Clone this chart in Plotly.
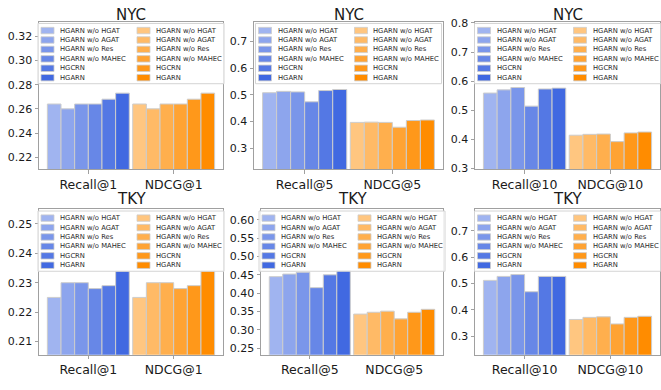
import plotly.graph_objects as go

W, H = 661, 390

# ---------------- data ----------------
variants = ["HGARN w/o HGAT", "HGARN w/o AGAT", "HGARN w/o Res",
            "HGARN w/o MAHEC", "HGCRN", "HGARN"]
datasets = ["NYC", "NYC", "NYC", "TKY", "TKY", "TKY"]
metric_labels = [["Recall@1", "NDCG@1"], ["Recall@5", "NDCG@5"], ["Recall@10", "NDCG@10"],
                 ["Recall@1", "NDCG@1"], ["Recall@5", "NDCG@5"], ["Recall@10", "NDCG@10"]]

nyc_recall1 = [0.264, 0.260, 0.264, 0.264, 0.268, 0.273]
nyc_ndcg1 = [0.264, 0.260, 0.264, 0.264, 0.268, 0.273]
nyc_recall5 = [0.508, 0.513, 0.511, 0.474, 0.516, 0.520]
nyc_ndcg5 = [0.397, 0.398, 0.397, 0.379, 0.404, 0.406]
nyc_recall10 = [0.559, 0.570, 0.578, 0.514, 0.573, 0.576]
nyc_ndcg10 = [0.414, 0.417, 0.418, 0.392, 0.422, 0.425]
tky_recall1 = [0.225, 0.230, 0.230, 0.228, 0.229, 0.234]
tky_ndcg1 = [0.225, 0.230, 0.230, 0.228, 0.229, 0.234]
tky_recall5 = [0.445, 0.452, 0.457, 0.415, 0.450, 0.462]
tky_ndcg5 = [0.343, 0.348, 0.351, 0.330, 0.348, 0.356]
tky_recall10 = [0.512, 0.527, 0.534, 0.469, 0.527, 0.527]
tky_ndcg10 = [0.364, 0.372, 0.374, 0.347, 0.372, 0.376]

recall_sets = [nyc_recall1, nyc_recall5, nyc_recall10, tky_recall1, tky_recall5, tky_recall10]
ndcg_sets = [nyc_ndcg1, nyc_ndcg5, nyc_ndcg10, tky_ndcg1, tky_ndcg5, tky_ndcg10]

y_ranges = [[0.21, 0.3323], [0.222, 0.774], [0.297, 0.805],
            [0.2055, 0.255], [0.232, 0.629], [0.23, 0.782]]
y_ticks = [[0.22, 0.24, 0.26, 0.28, 0.30, 0.32],
           [0.3, 0.4, 0.5, 0.6, 0.7],
           [0.3, 0.4, 0.5, 0.6, 0.7, 0.8],
           [0.21, 0.22, 0.23, 0.24, 0.25],
           [0.25, 0.30, 0.35, 0.40, 0.45, 0.50, 0.55, 0.60],
           [0.3, 0.4, 0.5, 0.6, 0.7]]
y_formats = [".2f", ".1f", ".1f", ".2f", ".2f", ".1f"]

# ---------------- style ----------------
blues = ["#a0b4f0", "#8da5ed", "#7a96ea", "#6787e7", "#5478e4", "#4169e1"]
oranges = ["#ffc680", "#ffba66", "#ffaf4d", "#ffa333", "#ff981a", "#ff8c00"]
EDGE = "rgb(205,205,205)"
SPINE = "#a0a0a0"
TXT = "#1a1a1a"
FONT = "DejaVu Sans"
BW = 0.16

# axes boxes in pixels: (left, right, top, bottom)
boxes = [(39, 223, 17, 169), (254, 443, 17, 169), (475, 660, 17, 169),
         (39, 223, 210, 360), (261, 443, 210, 360), (475, 660, 210, 360)]
title_y = [10.5, 10.5, 10.5, 200, 200, 200]

fig = go.Figure()
shapes = []
annotations = []


def px(x):
    return x / W


def py(y):
    return 1 - y / H


for k in range(6):
    n = "" if k == 0 else str(k + 1)
    xa, ya = "x" + n, "y" + n
    for g, (vals, cols) in enumerate([(recall_sets[k], blues), (ndcg_sets[k], oranges)]):
        xs = [g + (i - 2.5) * BW for i in range(len(vals))]
        fig.add_trace(go.Bar(
            x=xs, y=vals, width=BW, xaxis=xa, yaxis=ya,
            marker=dict(color=cols, line=dict(color=EDGE, width=1)),
            showlegend=False, hoverinfo="skip"))

    L, R, T, B = boxes[k]
    fig.layout["xaxis" + n] = dict(
        domain=[px(L), px(R)], anchor=ya, range=[-0.578, 1.578],
        tickvals=[0, 1], ticktext=metric_labels[k], ticks="outside", ticklen=3.5,
        tickcolor=SPINE, showline=True, mirror=True, linecolor=SPINE, linewidth=1,
        showgrid=False, zeroline=False, fixedrange=True,
        tickfont=dict(family=FONT, size=12.5, color=TXT))
    fig.layout["yaxis" + n] = dict(
        domain=[py(B), py(T)], anchor=xa, range=y_ranges[k],
        tickvals=y_ticks[k], tickformat=y_formats[k], ticks="outside", ticklen=3.5,
        tickcolor=SPINE, showline=True, mirror=True, linecolor=SPINE, linewidth=1,
        showgrid=False, zeroline=False, fixedrange=True,
        tickfont=dict(family=FONT, size=11, color=TXT))

    # title
    annotations.append(dict(
        x=px((L + R) / 2), y=py(title_y[k]), xref="paper", yref="paper",
        text=datasets[k], showarrow=False, xanchor="center", yanchor="middle",
        font=dict(family=FONT, size=15, color=TXT)))

    # legend (two columns, centred at the top of the axes)
    LW = 186
    bl = (L + R) / 2 - LW / 2
    shapes.append(dict(
        type="rect", xref="paper", yref="paper",
        x0=px(bl), x1=px(bl + LW), y0=py(T + 2), y1=py(T + 64),
        line=dict(color="#d4d4d4", width=1), fillcolor="rgba(255,255,255,0.85)",
        layer="above"))
    for col, cols in enumerate([blues, oranges]):
        patch_x = bl + (3 if col == 0 else 99)
        text_x = bl + (21 if col == 0 else 117)
        for i, name in enumerate(variants):
            yc = T + 9.3 + i * 9.7
            shapes.append(dict(
                type="rect", xref="paper", yref="paper",
                x0=px(patch_x), x1=px(patch_x + 13), y0=py(yc + 3.3), y1=py(yc - 3.3),
                line=dict(color=EDGE, width=0.8), fillcolor=cols[i], layer="above"))
            annotations.append(dict(
                x=px(text_x), y=py(yc), xref="paper", yref="paper", text=name,
                showarrow=False, xanchor="left", yanchor="middle", borderpad=0,
                font=dict(family=FONT, size=6.8, color="#2a2a2a")))

fig.update_layout(
    width=W, height=H, margin=dict(l=0, r=0, t=0, b=0),
    paper_bgcolor="white", plot_bgcolor="white", barmode="overlay",
    showlegend=False, shapes=shapes, annotations=annotations,
    font=dict(family=FONT, color=TXT))

fig.write_html("out.html")
